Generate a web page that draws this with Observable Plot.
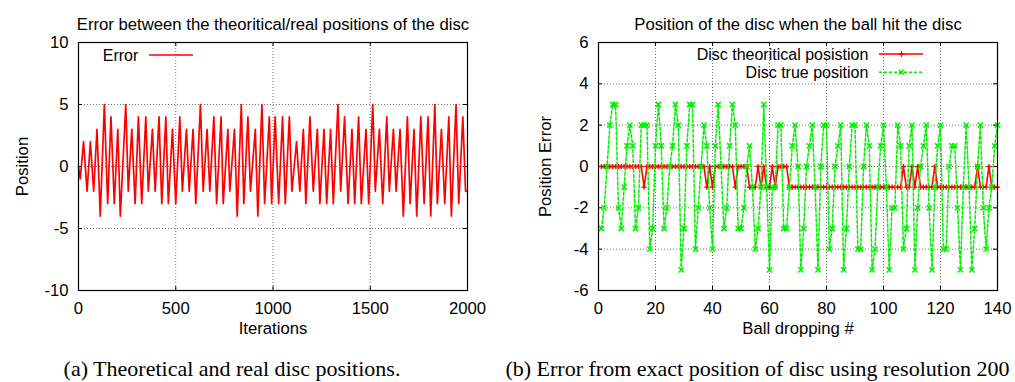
<!DOCTYPE html>
<html><head><meta charset="utf-8">
<script src="https://cdn.jsdelivr.net/npm/d3@7"></script>
<script src="https://cdn.jsdelivr.net/npm/@observablehq/plot@0.6"></script>
<style>
html,body{margin:0;padding:0;background:#fff;}
body{width:1015px;height:382px;position:relative;overflow:hidden;font-family:"Liberation Sans",Arial,sans-serif;}
#a,#b,#ov{position:absolute;top:0;}
#a{left:0;}
#b{left:500px;}
#ov{left:0;pointer-events:none;}
</style>
</head><body>
<div id="a"></div><div id="b"></div>
<svg id="ov" width="1015" height="382"></svg>
<script>
// ---------- Panel (a) data ----------
const leftTitle = "Error between the theoritical/real positions of the disc";
const leftXLabel = "Iterations";
const leftYLabel = "Position";
const leftXTicks = [0, 500, 1000, 1500, 2000];
const leftYTicks = [-10, -5, 0, 5, 10];
const leftXGrid = [500, 1000, 1500];
const leftYGrid = [-5, 0, 5];
const errIter = [0,9,26,44,61,78,95,112,133,150,167,184,202,215,243,256,274,291,308,325,346,359,380,394,414,428,449,462,483,500,521,534,555,569,589,603,627,641,661,675,696,710,733,744,768,778,802,816,837,850,871,884,909,922,943,957,981,993,1011,1029,1049,1063,1084,1097,1121,1138,1156,1169,1190,1207,1228,1241,1262,1276,1296,1310,1334,1348,1368,1386,1406,1420,1440,1454,1478,1492,1513,1526,1547,1564,1585,1598,1619,1633,1653,1670,1691,1705,1725,1739,1760,1777,1797,1811,1832,1845,1866,1883,1904,1917,1941,1955,1976,1990,2000];
const errValue = [0,-1,2,-2,2,-2,3,-4,5,-3,4,-3,3,-4,5,-2,3,-3,4,-3,4,-2,3,-2,4,-3,4,-3,3,-3,4,-2,3,-2,3,-3,5,-2,3,-2,4,-3,4,-3,3,-2,3,-4,5,-3,4,-2,3,-4,5,-3,4,-3,4,-3,4,-3,4,-2,2,-2,3,-3,4,-2,3,-3,3,-3,3,-3,5,-2,4,-3,3,-3,4,-3,3,-3,5,-2,3,-3,4,-2,3,-2,3,-4,4,-3,3,-4,4,-3,4,-4,5,-3,3,-3,4,-4,5,-3,4,-2,-2];
const leftLegend = "Error";
const captionA = "(a) Theoretical and real disc positions.";

// ---------- Panel (b) data ----------
const rightTitle = "Position of the disc when the ball hit the disc";
const rightXLabel = "Ball dropping #";
const rightYLabel = "Position Error";
const rightXTicks = [0, 20, 40, 60, 80, 100, 120, 140];
const rightYTicks = [-6, -4, -2, 0, 2, 4, 6];
const rightXGrid = [20, 40, 60, 80, 100, 120];
const rightYGrid = [-4, -2, 0, 2, 4];
const dropIdx = d3.range(1, 141);
const theoPos = [
 0,0,0,0,0,0,0,0,0,0, 0,0,0,0,0,-1,0,0,0,0,
 0,0,0,0,0,0,0,0,0,0, 0,0,0,0,0,0,0,-1,0,-1,
 0,0,0,0,0,0,0,-1,0,0, 0,0,-1,-1,-1,0,-1,0,-1,-1,
 0,-1,0,0,0,0,-1,-1,-1,-1, -1,-1,-1,-1,-1,-1,-1,-1,-1,-1,
 -1,-1,-1,-1,-1,-1,-1,-1,-1,-1, -1,-1,-1,-1,-1,-1,-1,-1,-1,-1,
 -1,-1,-1,-1,-1,-1,0,-1,-1,0, -1,0,-1,-1,-1,-1,-1,0,-1,-1,
 -1,-1,-1,-1,-1,-1,-1,-1,-1,-1, -1,-1,0,-1,-1,-1,0,-1,-1,-1];
const truePos = [
 -3,-2,0,2,3,3,-2,-3,-1,1, 2,1,-3,-2,2,2,2,-4,-3,1,
 3,1,-3,-2,0,1,3,2,-5,-3, 1,3,3,-4,-2,0,2,1,-2,-4,
 1,3,0,-3,-2,1,3,2,-3,-3, -2,0,1,-1,-4,-3,-1,3,-1,-5,
 -1,-1,2,2,-3,-3,-1,1,2,0, -5,-3,0,1,2,-1,-5,0,2,2,
 -4,-3,0,1,2,-5,-3,0,2,2, -4,-4,0,2,1,-5,-4,-1,1,2,
 -1,-5,-2,-2,2,1,-4,-3,1,2, -5,-2,0,1,2,-2,-5,-1,1,2,
 -4,-4,0,1,1,-2,-5,-1,2,-1, -5,-3,0,2,-2,-4,-2,-1,1,2];
const legendTheo = "Disc theoritical posistion";
const legendTrue = "Disc true position";
const captionB = "(b) Error from exact position of disc using resolution 200";

// ---------- common styles ----------
const FONT = "Liberation Sans, Arial, Helvetica, sans-serif";
const FS = 16.7;
const LFS = 16;
const RED = "#ff0000", GREEN = "#00f000";
const gridStyle = {stroke: "#000", strokeOpacity: 0.55, strokeDasharray: "1,2", strokeWidth: 1};
const fmt = d => String(d);

function panel(cfg) {
  const pw = cfg.width - cfg.ml - cfg.mr;
  const ph = cfg.height - cfg.mt - cfg.mb;
  const T = 4;
  return Plot.plot({
    width: cfg.width, height: cfg.height,
    marginTop: cfg.mt, marginBottom: cfg.mb, marginLeft: cfg.ml, marginRight: cfg.mr,
    style: {fontFamily: FONT, fontSize: FS + "px", background: "transparent", overflow: "visible", color: "#000"},
    x: {domain: cfg.xDomain},
    y: {domain: cfg.yDomain},
    marks: [
      Plot.gridX(cfg.xGrid, gridStyle),
      Plot.gridY(cfg.yGrid, gridStyle),
      Plot.tickX(cfg.xTicks, {x: d => d, insetTop: ph - T, stroke: "#000"}),
      Plot.tickX(cfg.xTicks, {x: d => d, insetBottom: ph - T, stroke: "#000"}),
      Plot.tickY(cfg.yTicks, {y: d => d, insetRight: pw - T, stroke: "#000"}),
      Plot.tickY(cfg.yTicks, {y: d => d, insetLeft: pw - T, stroke: "#000"}),
      ...cfg.marks,
      Plot.frame({stroke: "#000", strokeWidth: 1.2}),
      Plot.axisX(cfg.xTicks, {tickSize: 0, tickPadding: 12, label: null, tickFormat: fmt}),
      Plot.axisY(cfg.yTicks, {tickSize: 0, tickPadding: 10, label: null, tickFormat: fmt}),
      Plot.text([cfg.title], {frameAnchor: "top", dy: -24, fontSize: FS, textAnchor: "middle"}),
      Plot.text([cfg.xLabel], {frameAnchor: "bottom", dy: 43, fontSize: FS, textAnchor: "middle"}),
      Plot.text([cfg.yLabel], {frameAnchor: "left", rotate: -90, dx: cfg.yLabelDx, fontSize: FS, textAnchor: "middle"})
    ]
  });
}

const errData = errIter.map((t, i) => ({t, v: errValue[i]}));
document.getElementById("a").append(panel({
  width: 500, height: 345, mt: 42, mb: 55, ml: 78, mr: 33,
  xDomain: [0, 2000], yDomain: [-10, 10],
  xTicks: leftXTicks, yTicks: leftYTicks, xGrid: leftXGrid, yGrid: leftYGrid,
  title: leftTitle, xLabel: leftXLabel, yLabel: leftYLabel, yLabelDx: -56,
  marks: [Plot.line(errData, {x: "t", y: "v", stroke: RED, strokeWidth: 1.7})]
}));

const discData = dropIdx.map((d, i) => ({d, theo: theoPos[i], tru: truePos[i]}));
document.getElementById("b").append(panel({
  width: 515, height: 345, mt: 42, mb: 55, ml: 98, mr: 18,
  xDomain: [0, 140], yDomain: [-6, 6],
  xTicks: rightXTicks, yTicks: rightYTicks, xGrid: rightXGrid, yGrid: rightYGrid,
  title: rightTitle, xLabel: rightXLabel, yLabel: rightYLabel, yLabelDx: -53,
  marks: [
    Plot.line(discData, {x: "d", y: "theo", stroke: RED, strokeWidth: 1.6}),
    Plot.dot(discData, {x: "d", y: "theo", symbol: "plus", r: 1.8, stroke: RED, strokeWidth: 1.3}),
    Plot.line(discData, {x: "d", y: "tru", stroke: GREEN, strokeWidth: 1.5, strokeDasharray: "3,2"}),
    Plot.dot(discData, {x: "d", y: "tru", symbol: "times", r: 2.5, stroke: GREEN, strokeWidth: 1.5})
  ]
}));

// ---------- legends & captions (overlay) ----------
const ov = d3.select("#ov");
function legText(x, y, s) {
  ov.append("text").attr("x", x).attr("y", y).attr("text-anchor", "end")
    .attr("font-family", FONT).attr("font-size", LFS).text(s);
}
legText(138.3, 61, leftLegend);
ov.append("line").attr("x1", 149).attr("x2", 193).attr("y1", 55).attr("y2", 55)
  .attr("stroke", RED).attr("stroke-width", 1.6);

legText(868.3, 60, legendTheo);
ov.append("line").attr("x1", 879).attr("x2", 923).attr("y1", 54).attr("y2", 54)
  .attr("stroke", RED).attr("stroke-width", 1.6);
ov.append("path").attr("d", "M898.5,54H904.5M901.5,51V57").attr("stroke", RED).attr("stroke-width", 1.3);

legText(868.3, 78.2, legendTrue);
ov.append("line").attr("x1", 879).attr("x2", 923).attr("y1", 72.2).attr("y2", 72.2)
  .attr("stroke", GREEN).attr("stroke-width", 1.5).attr("stroke-dasharray", "3,2");
ov.append("path").attr("d", "M899,69.7L904,74.7M899,74.7L904,69.7").attr("stroke", GREEN).attr("stroke-width", 1.5);

function caption(x, s) {
  ov.append("text").attr("x", x).attr("y", 375.7).attr("text-anchor", "middle")
    .attr("font-family", "Liberation Serif, Times New Roman, serif").attr("font-size", 22).text(s);
}
caption(232, captionA);
caption(757.5, captionB);
</script>
</body></html>
